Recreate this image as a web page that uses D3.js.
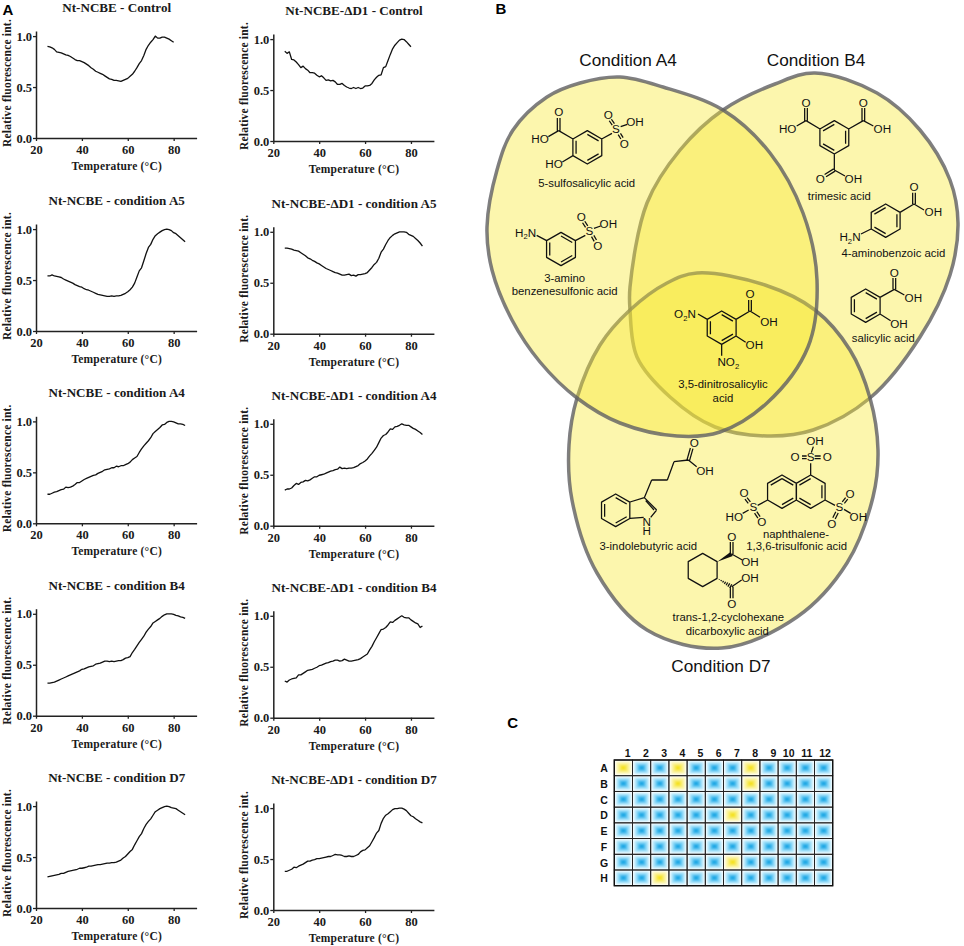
<!DOCTYPE html>
<html>
<head>
<meta charset="utf-8">
<script src="https://cdn.jsdelivr.net/npm/d3@7"></script>
<style>
    html, body { margin: 0; padding: 0; background: #fff; }
    svg { display: block; }
    .plotTitle, .axisTitle, .tick text { font-family: "Liberation Serif", serif; font-weight: bold; fill: #1a1a1a; }
    .plotTitle { font-size: 13.1px; }
    .axisTitle { font-size: 11.5px; letter-spacing: 0.2px; }
    .tick text { font-size: 12.5px; }
    .chem { font-family: "Liberation Sans", sans-serif; fill: #111; }
    .panelLetter { font-family: "Liberation Sans", sans-serif; font-weight: bold; font-size: 15px; }
</style>
</head>
<body>
<div id="chart"></div>
<script>
// temperature grid of the melt curves (deg C)
var temps = [25,26,27,28,29,30,31,32,33,34,35,36,37,38,39,40,41,42,43,44,45,46,47,48,49,50,51,52,53,54,55,56,57,58,59,60,
    61,62,63,64,65,66,67,68,69,70,71,72,73,74,75,76,77,78,79,80,81,82,83,84,85];

var ncbeControl = [.90,.895,.885,.87,.845,.84,.835,.825,.815,.81,.80,.785,.77,.76,.76,.75,.74,.725,.71,.69,.675,.655,.645,.635,.625,.61,.595,.58,.575,.565,.565,.56,.555,.565,.575,.585,
    .605,.625,.655,.69,.73,.76,.81,.87,.91,.94,.965,1.0,.98,.98,.99,.99,.98,.97,.955,.94];
var d1Control = [.88,.86,.875,.80,.795,.775,.75,.72,.735,.71,.695,.67,.67,.665,.645,.63,.64,.62,.595,.60,.59,.595,.58,.555,.555,.565,.545,.53,.52,.515,.525,.515,.525,.515,.52,.54,
    .54,.545,.565,.60,.625,.645,.65,.72,.73,.79,.85,.905,.94,.965,.99,1.0,.995,.975,.95,.925];
var ncbeA5 = [.54,.54,.55,.54,.535,.53,.525,.51,.50,.49,.48,.47,.455,.445,.435,.43,.415,.405,.40,.39,.38,.37,.36,.355,.35,.345,.34,.34,.345,.34,.345,.345,.35,.36,.37,.385,
    .405,.43,.47,.53,.59,.62,.69,.76,.82,.85,.90,.935,.955,.97,.985,.995,1.0,.995,.985,.965,.955,.935,.915,.895,.875];
var d1A5 = [.84,.84,.835,.83,.82,.815,.81,.795,.78,.765,.745,.735,.72,.71,.695,.685,.67,.655,.64,.63,.62,.61,.60,.595,.585,.575,.575,.58,.585,.57,.575,.565,.58,.58,.585,.59,
    .60,.625,.65,.68,.70,.74,.80,.83,.875,.915,.945,.965,.98,.99,1.0,1.0,1.0,.995,.975,.965,.955,.935,.915,.89,.86];
var ncbeA4 = [.285,.285,.295,.305,.31,.32,.33,.335,.355,.35,.355,.365,.38,.40,.40,.415,.43,.44,.45,.46,.47,.475,.49,.50,.51,.525,.53,.535,.545,.545,.56,.555,.565,.565,.575,.585,
    .60,.625,.64,.655,.695,.73,.76,.785,.81,.84,.88,.90,.92,.94,.965,.97,.99,1.0,1.0,.995,.985,.975,.975,.97,.96];
var d1A4 = [.35,.36,.36,.37,.395,.415,.405,.425,.43,.445,.44,.45,.465,.48,.48,.495,.50,.505,.515,.525,.535,.54,.55,.555,.575,.56,.565,.56,.565,.565,.57,.58,.59,.61,.62,.635,
    .655,.685,.71,.74,.77,.815,.86,.885,.895,.92,.95,.945,.97,.975,.985,1.0,.99,.985,.985,.97,.955,.945,.93,.915,.895];
var ncbeB4 = [.32,.32,.325,.33,.34,.35,.36,.37,.38,.39,.40,.41,.42,.43,.44,.455,.46,.47,.48,.485,.49,.505,.51,.515,.525,.535,.535,.53,.535,.53,.535,.54,.54,.55,.565,.57,
    .58,.62,.65,.685,.72,.75,.78,.82,.85,.875,.91,.925,.94,.955,.975,.99,1.0,1.0,1.0,.995,.985,.98,.97,.965,.955];
var d1B4 = [.36,.35,.37,.38,.385,.39,.42,.42,.435,.45,.465,.47,.475,.485,.495,.51,.515,.525,.535,.54,.55,.555,.565,.565,.555,.56,.575,.565,.555,.555,.56,.565,.57,.58,.595,.61,
    .625,.665,.70,.745,.785,.825,.865,.87,.885,.91,.94,.935,.955,.97,.985,1.0,.985,.98,.98,.96,.945,.93,.92,.885,.90];
var ncbeD7 = [.305,.31,.315,.32,.325,.33,.34,.34,.35,.36,.365,.37,.375,.38,.39,.39,.395,.40,.41,.41,.415,.42,.425,.425,.43,.435,.44,.44,.445,.445,.45,.46,.47,.49,.505,.53,
    .555,.575,.62,.66,.70,.73,.78,.82,.85,.875,.91,.945,.96,.975,.985,.995,1.0,.995,.985,.98,.975,.96,.945,.93,.915];
var d1D7 = [.38,.38,.39,.40,.42,.415,.43,.44,.45,.465,.48,.48,.49,.495,.505,.505,.51,.515,.52,.525,.525,.535,.545,.54,.54,.535,.525,.525,.53,.525,.525,.535,.545,.57,.585,.59,
    .61,.63,.67,.71,.755,.78,.85,.90,.93,.945,.965,.985,.995,.995,1.0,1.0,.99,.975,.95,.925,.915,.895,.88,.865,.855];

var seriesList = [ncbeControl, d1Control, ncbeA5, d1A5, ncbeA4, d1A4, ncbeB4, d1B4, ncbeD7, d1D7];
var titles = ["Nt-NCBE - Control", "Nt-NCBE-ΔD1 - Control",
    "Nt-NCBE - condition A5", "Nt-NCBE-ΔD1 - condition A5",
    "Nt-NCBE - condition A4", "Nt-NCBE-ΔD1 - condition A4",
    "Nt-NCBE - condition B4", "Nt-NCBE-ΔD1 - condition B4",
    "Nt-NCBE - condition D7", "Nt-NCBE-ΔD1 - condition D7"];
var xTicks = [20, 40, 60, 80];
var yTicks = [0, 0.5, 1];

// screening plate
var plateRows = ["A","B","C","D","E","F","G","H"];
var plateCols = ["1","2","3","4","5","6","7","8","9","10","11","12"];
var hitWells = ["A1","A4","A8","B4","B8","D7","G7","H3"];

function init(){

    var w = 964;
    var h = 946;

    //Create SVG element
    var svg = d3.select("#chart")
                .append("svg")
                .attr("width", w)
                .attr("height", h);

    // ---------- A: melt curves ----------
    var baseLeft = [138, 331, 523.3, 715.7, 908];
    var baseRight = [141, 333.7, 525.7, 717.7, 910];
    var plotW = 160.6;
    var plotH = 107;

    var line = d3.line()
                .x(function(d){ return d.x; })
                .y(function(d){ return d.y; });

    seriesList.forEach(function(values, i){

        var right = i % 2 == 1;
        var row = Math.floor(i / 2);
        var x0 = right ? 273.3 : 36;
        var y0 = right ? baseRight[row] : baseLeft[row];

        var xScale = d3.scaleLinear().domain([20, 90]).range([0, plotW]);
        var yScale = d3.scaleLinear().domain([0, 1.05]).range([0, -plotH]);

        var g = svg.append("g").attr("transform", "translate(" + x0 + "," + y0 + ")");

        var xAxis = g.append("g").call(d3.axisBottom(xScale).tickValues(xTicks).tickSize(3).tickSizeOuter(0));
        var yAxis = g.append("g").call(d3.axisLeft(yScale).tickValues(yTicks).tickFormat(d3.format(".1f")).tickSize(3).tickSizeOuter(0));

        xAxis.selectAll("text").attr("y", 7);
        yAxis.selectAll("text").attr("x", -4);
        g.selectAll(".domain").attr("stroke-width", 1.5).attr("stroke", "#222");
        g.selectAll(".tick line").attr("stroke-width", 1.3).attr("stroke", "#222");

        g.append("path")
            .attr("d", line(values.map(function(v, j){
                return { x: xScale(temps[j]), y: yScale(v) };
            })))
            .attr("fill", "none")
            .attr("stroke", "#111")
            .attr("stroke-width", 1.3)
            .attr("stroke-linejoin", "round");

        g.append("text")
            .attr("class", "plotTitle")
            .attr("x", 80.7)
            .attr("y", -126)
            .attr("text-anchor", "middle")
            .text(titles[i]);

        g.append("text")
            .attr("class", "axisTitle")
            .attr("x", 80.7)
            .attr("y", 32)
            .attr("text-anchor", "middle")
            .text("Temperature (°C)");

        g.append("text")
            .attr("class", "axisTitle")
            .attr("transform", "translate(" + (-25) + "," + (-55) + ") rotate(-90)")
            .attr("text-anchor", "middle")
            .text("Relative fluorescence int.");
    });

    // ---------- B: venn outlines ----------
    var ovalB = [[630,287],[630,310],[637,357],[670,397],[715,427],[767,436],[813,430],[870,398],[920,337],[950,275],[958,223],[950,180],[920,130],[877,93],[815,73],[775,84],[723,110],[680,150],[647,203]];
    var ovalD = [[697,273],[765,285],[815,310],[850,350],[870,398],[878,450],[873,497],[847,563],[797,617],[722,648],[647,630],[597,573],[572,500],[569,445],[577,398],[600,345],[630,310],[667,283]];
    var ovalA = [[620,77],[663,87],[723,110],[770,153],[803,213],[817,280],[808,347],[767,403],[720,432],[677,436],[620,423],[577,398],[540,362],[512,320],[492,270],[487,227],[497,170],[513,130],[547,97],[580,83]];

    var oval = d3.line().curve(d3.curveCatmullRomClosed.alpha(0.5));

    [ovalB, ovalD, ovalA].forEach(function(pts){
        svg.append("path")
            .attr("d", oval(pts))
            .attr("fill", "#f7e832")
            .attr("fill-opacity", 0.4)
            .attr("stroke", "#5f5f63")
            .attr("stroke-opacity", 0.8)
            .attr("stroke-width", 3.5);
    });

    svg.selectAll(".conditionLabel")
        .data([["Condition A4",628,65.5],["Condition B4",816,65.5],["Condition D7",721,672]])
        .enter()
        .append("text")
        .attr("class", "chem")
        .attr("x", function(d){ return d[1]; })
        .attr("y", function(d){ return d[2]; })
        .attr("text-anchor", "middle")
        .attr("font-size", 17.2)
        .text(function(d){ return d[0]; });

    // molecules, each drawn in 3x zoomed coordinates around an origin
    function hexagon(cx, cy, r){
        return d3.range(6).map(function(k){
            var a = (-90 + 60 * k) * Math.PI / 180;
            return [cx + r * Math.cos(a), cy + r * Math.sin(a)];
        });
    }

    function ring(cx, cy, r, doubles){
        var p = hexagon(cx, cy, r);
        var d = "M" + p.join("L") + "Z";
        (doubles || []).forEach(function(k){
            var a = p[k], b = p[(k + 1) % 6];
            var s = 0.78;
            var ax = cx + (a[0] - cx) * s, ay = cy + (a[1] - cy) * s;
            var bx = cx + (b[0] - cx) * s, by = cy + (b[1] - cy) * s;
            d += "M" + ax + " " + ay + "L" + bx + " " + by;
        });
        return d;
    }

    function bond(x1, y1, x2, y2){
        return "M" + x1 + " " + y1 + "L" + x2 + " " + y2;
    }

    function dbl(x1, y1, x2, y2){
        var dx = x2 - x1, dy = y2 - y1, len = Math.sqrt(dx * dx + dy * dy);
        var ox = -dy / len * 4, oy = dx / len * 4;
        return bond(x1 + ox, y1 + oy, x2 + ox, y2 + oy) + bond(x1 - ox, y1 - oy, x2 - ox, y2 - oy);
    }

    function wedge(x1, y1, x2, y2){
        var dx = x2 - x1, dy = y2 - y1, len = Math.sqrt(dx * dx + dy * dy);
        var ox = -dy / len * 7, oy = dx / len * 7;
        return "M" + x1 + " " + y1 + "L" + (x2 + ox) + " " + (y2 + oy) + "L" + (x2 - ox) + " " + (y2 - oy) + "Z";
    }

    function hashed(x1, y1, x2, y2){
        var dx = x2 - x1, dy = y2 - y1, len = Math.sqrt(dx * dx + dy * dy);
        var d = "";
        d3.range(1, 8).forEach(function(k){
            var t = k / 7.5, ox = -dy / len * 7 * t, oy = dx / len * 7 * t;
            d += bond(x1 + dx * t + ox, y1 + dy * t + oy, x1 + dx * t - ox, y1 + dy * t - oy);
        });
        return d;
    }

    function drawMolecule(ox, oy, paths, labels){
        var g = svg.append("g").attr("transform", "translate(" + ox + "," + oy + ") scale(" + (1/3) + ")");
        g.append("path")
            .attr("d", paths.join(""))
            .attr("fill", "none")
            .attr("stroke", "#111")
            .attr("stroke-width", 3.8)
            .attr("stroke-linejoin", "round");
        labels.forEach(function(l){
            var t = g.append("text")
                .attr("class", "chem")
                .attr("x", l[0])
                .attr("y", l[1] + (l[3] ? 11 : 12))
                .attr("text-anchor", "middle")
                .attr("font-size", l[3] ? 34 : 35);
            var parts = l[2].split("_");
            t.append("tspan").text(parts[0]);
            if (parts.length > 1) {
                t.append("tspan").attr("dy", 8).attr("font-size", 23).text(parts[1].charAt(0));
                if (parts[1].length > 1) t.append("tspan").attr("dy", -8).text(parts[1].slice(1));
            }
        });
        return g;
    }

    function fill(g, d){
        g.append("path").attr("d", d).attr("fill", "#111");
    }

    // 5-sulfosalicylic acid
    drawMolecule(480, 60, [
        ring(322, 262, 50, [0, 2, 4]),
        bond(279, 237, 236, 212), bond(236, 212, 205, 230), dbl(236, 212, 236, 174),
        bond(279, 287, 247, 306),
        bond(365, 237, 396, 220), dbl(400, 193, 391, 180), dbl(418, 222, 426, 235), bond(422, 200, 442, 193)
    ], [[236,157,"O"],[180,237,"HO"],[222,313,"HO"],[408,207,"S"],[385,165,"O"],[433,252,"O"],[465,187,"OH"],
        [320,371,"5-sulfosalicylic acid",1]]);

    // 3-amino benzenesulfonic acid
    drawMolecule(480, 60, [
        ring(243, 567, 50, [0, 2, 4]),
        bond(170, 526, 200, 542),
        bond(286, 542, 316, 526), dbl(320, 500, 311, 486), dbl(338, 528, 346, 542), bond(342, 505, 362, 498)
    ], [[137,518,"H_2N"],[328,513,"S"],[304,470,"O"],[353,558,"O"],[385,492,"OH"],
        [254,655,"3-amino",1],[254,694,"benzenesulfonic acid",1]]);

    // trimesic acid, 4-aminobenzoic acid, salicylic acid
    drawMolecule(720, 80, [
        ring(343, 172, 50, [1, 3, 5]),
        bond(300, 147, 258, 122), bond(258, 122, 230, 138), dbl(258, 122, 258, 84),
        bond(386, 147, 430, 122), bond(430, 122, 460, 138), dbl(430, 122, 430, 84),
        bond(343, 222, 343, 270), bond(343, 270, 375, 288), dbl(343, 270, 316, 287)
    ], [[258,68,"O"],[430,68,"O"],[203,147,"HO"],[487,147,"OH"],[301,297,"O"],[400,297,"OH"],[358,350,"trimesic acid",1]]);

    drawMolecule(720, 80, [
        ring(497, 422, 50, [1, 3, 5]),
        bond(540, 397, 582, 372), bond(582, 372, 612, 390), dbl(582, 372, 582, 338),
        bond(453, 447, 423, 462)
    ], [[582,322,"O"],[640,397,"OH"],[390,472,"H_2N"],[520,520,"4-aminobenzoic acid",1]]);

    drawMolecule(720, 80, [
        ring(437, 677, 50, [0, 2, 4]),
        bond(480, 652, 523, 628), bond(523, 628, 553, 645), dbl(523, 628, 523, 594),
        bond(480, 702, 512, 722)
    ], [[523,578,"O"],[580,653,"OH"],[537,733,"OH"],[490,776,"salicylic acid",1]]);

    // 3,5-dinitrosalicylic acid
    drawMolecule(570, 290, [
        ring(455, 113, 50, [0, 2, 4]),
        bond(498, 88, 540, 63), bond(540, 63, 570, 82), dbl(540, 63, 540, 30),
        bond(412, 88, 384, 72),
        bond(498, 138, 527, 157),
        bond(455, 163, 455, 197)
    ], [[540,12,"O"],[597,95,"OH"],[345,72,"O_2N"],[553,165,"OH"],[475,217,"NO_2"],
        [459,283,"3,5-dinitrosalicylic",1],[459,325,"acid",1]]);

    // 3-indolebutyric acid
    drawMolecule(580, 430, [
        ring(107, 241, 49, [0, 2, 4]),
        bond(150, 216, 193, 203), bond(193, 203, 230, 240), bond(230, 240, 212, 262), bond(191, 262, 150, 265),
        bond(197, 212, 222, 240),
        bond(193, 203, 215, 150), bond(215, 150, 262, 150), bond(262, 150, 282, 95), bond(282, 95, 325, 90),
        bond(325, 90, 350, 110), dbl(325, 90, 335, 55)
    ], [[200,275,"N"],[200,304,"H"],[343,38,"O"],[375,122,"OH"],[205,350,"3-indolebutyric acid",1]]);

    // naphthalene-1,3,6-trisulfonic acid
    drawMolecule(580, 430, [
        ring(692, 185, 50, [1, 3, 5]),
        ring(606, 185, 50, [0, 2, 5]),
        bond(692, 135, 692, 100),
        dbl(666, 82, 680, 82), dbl(704, 82, 722, 82), bond(694, 68, 700, 50),
        bond(735, 210, 765, 226), dbl(790, 218, 800, 205), dbl(771, 247, 762, 265), bond(792, 238, 812, 250),
        bond(563, 210, 533, 226), dbl(508, 218, 498, 205), dbl(527, 247, 537, 262), bond(506, 240, 488, 250)
    ], [[692,82,"S"],[645,82,"O"],[742,82,"O"],[705,32,"OH"],[778,232,"S"],[810,192,"O"],[755,281,"O"],[835,260,"OH"],
        [520,232,"S"],[492,190,"O"],[545,275,"O"],[463,260,"HO"],
        [648,313,"naphthalene-",1],[650,350,"1,3,6-trisulfonic acid",1]]);

    // trans-1,2-cyclohexane dicarboxylic acid
    var cyclo = drawMolecule(580, 430, [
        ring(368, 420, 50),
        bond(455, 372, 487, 390), dbl(455, 372, 455, 336),
        bond(455, 470, 485, 450), dbl(455, 470, 455, 505),
        hashed(412, 445, 455, 470)
    ], [[455,320,"O"],[510,395,"OH"],[510,445,"OH"],[455,521,"O"],
        [445,561,"trans-1,2-cyclohexane",1],[442,604,"dicarboxylic acid",1]]);
    fill(cyclo, wedge(412, 395, 455, 372));

    // ---------- C: plate ----------
    var defs = svg.append("defs");
    defs.append("filter")
        .attr("id", "soft")
        .append("feGaussianBlur")
        .attr("stdDeviation", 0.9);

    var plate = svg.append("g");
    var wells = plate.append("g").attr("filter", "url(#soft)");
    var xWell = d3.scaleBand().domain(plateCols).range([614.3, 832.7]);
    var yWell = d3.scaleBand().domain(plateRows).range([760, 885.7]);
    var steps = [1, 0.8, 0.6, 0.42, 0.25];
    var blues = ["#c6eefc", "#a0e0f9", "#6fcff5", "#3bbaee", "#12a3e1"];
    var yellows = ["#fcf8c4", "#faf3a0", "#f9ee74", "#f7e845", "#f4e012"];

    plateRows.forEach(function(r){
        plateCols.forEach(function(c){
            var hit = hitWells.indexOf(r + c) >= 0;
            var shades = hit ? yellows : blues;
            steps.forEach(function(s, k){
                var bw = (xWell.bandwidth() - 3) * s;
                var bh = (yWell.bandwidth() - 3) * s;
                wells.append("rect")
                    .attr("x", xWell(c) + xWell.bandwidth() / 2 - bw / 2)
                    .attr("y", yWell(r) + yWell.bandwidth() / 2 - bh / 2)
                    .attr("width", bw)
                    .attr("height", bh)
                    .attr("fill", shades[k]);
            });
            plate.append("rect")
                .attr("x", xWell(c))
                .attr("y", yWell(r))
                .attr("width", xWell.bandwidth())
                .attr("height", yWell.bandwidth())
                .attr("fill", "none")
                .attr("stroke", "#222")
                .attr("stroke-width", 0.9);
        });
    });

    plate.append("rect")
        .attr("x", 614.3)
        .attr("y", 760)
        .attr("width", 218.4)
        .attr("height", 125.7)
        .attr("fill", "none")
        .attr("stroke", "#111")
        .attr("stroke-width", 1.4);

    plate.selectAll(".colLabel")
        .data(plateCols)
        .enter()
        .append("text")
        .attr("class", "chem")
        .attr("x", function(d){ return xWell(d) + xWell.bandwidth() / 2 + (d.length == 1 ? 4.3 : 1.5); })
        .attr("y", 757)
        .attr("text-anchor", "middle")
        .attr("font-size", 10.5)
        .attr("font-weight", "bold")
        .text(function(d){ return d; });

    plate.selectAll(".rowLabel")
        .data(plateRows)
        .enter()
        .append("text")
        .attr("class", "chem")
        .attr("x", 604)
        .attr("y", function(d){ return yWell(d) + yWell.bandwidth() / 2 + 4.5; })
        .attr("text-anchor", "middle")
        .attr("font-size", 10.5)
        .attr("font-weight", "bold")
        .text(function(d){ return d; });

    // panel letters
    svg.selectAll(".panelLetter")
        .data([["A",8,15],["B",501,13.5],["C",512.7,728]])
        .enter()
        .append("text")
        .attr("class", "panelLetter")
        .attr("x", function(d){ return d[1]; })
        .attr("y", function(d){ return d[2]; })
        .attr("text-anchor", "middle")
        .text(function(d){ return d[0]; });
}

window.onload = init;
</script>
</body>
</html>
